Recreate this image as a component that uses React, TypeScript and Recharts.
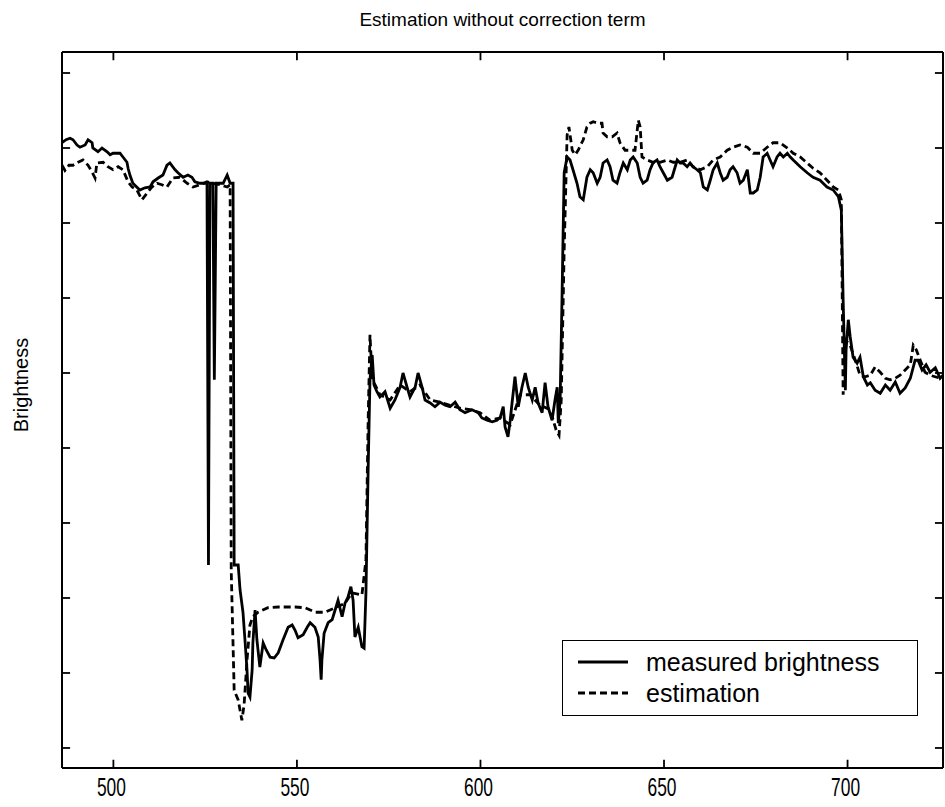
import React from 'react';
import { LineChart, Line, XAxis, YAxis, Legend, ReferenceLine } from 'recharts';

// x positions (sample index) and brightness of the measured signal
const measuredX = [
  486.0, 487.1, 488.2, 489.0, 490.1, 490.9, 492.3, 493.1, 494.2, 494.4, 495.8, 496.9, 498.3, 499.1, 499.9,
  501.8, 502.6, 503.7, 504.0, 504.5, 505.3, 507.2, 508.6, 510.0, 510.8, 512.2, 513.5, 514.6, 515.4, 516.8,
  517.6, 519.0, 520.3, 521.4, 522.2, 523.6, 525.0, 525.5, 525.9, 526.3, 527.1, 527.5, 528.0, 529.9, 531.0,
  531.8, 532.6, 532.9, 534.0, 534.5, 535.3, 535.9, 536.4, 536.7, 537.2, 537.8, 538.0, 538.6, 539.1, 539.9,
  540.8, 541.6, 542.7, 543.8, 544.9, 546.2, 547.6, 548.7, 549.5, 550.3, 551.7, 552.8, 553.6, 554.9, 555.8,
  556.3, 556.6, 556.8, 557.4, 558.5, 559.6, 560.4, 561.2, 562.3, 563.1, 563.9, 564.7, 565.3, 565.8, 566.7,
  567.7, 568.3, 568.8, 569.4, 569.9, 570.5, 571.0, 571.8, 572.6, 574.0, 575.4, 576.7, 578.1, 578.9, 580.0,
  580.8, 582.2, 583.0, 584.1, 584.9, 586.3, 587.6, 589.0, 590.4, 591.7, 593.1, 594.4, 595.8, 597.7, 599.4,
  600.4, 601.8, 603.2, 604.5, 605.4, 606.2, 606.7, 607.5, 608.1, 608.6, 609.4, 610.3, 611.3, 612.2, 613.0,
  614.1, 614.9, 615.7, 616.8, 617.6, 618.4, 619.5, 620.3, 620.9, 621.2, 621.7, 622.2, 622.8, 623.6, 624.4,
  625.2, 626.3, 627.1, 628.0, 629.0, 629.9, 630.7, 631.8, 632.6, 633.4, 634.5, 635.3, 636.1, 637.2, 638.0,
  638.9, 640.0, 640.8, 641.6, 642.7, 643.5, 644.3, 645.4, 646.2, 647.0, 648.1, 648.9, 649.8, 650.9, 652.2,
  653.6, 654.4, 655.2, 656.3, 657.1, 657.9, 659.0, 659.9, 660.7, 661.8, 662.6, 663.4, 664.5, 665.3, 666.1,
  667.2, 668.0, 668.8, 669.9, 670.7, 671.6, 672.7, 673.5, 674.3, 675.4, 676.2, 677.0, 678.1, 678.9, 679.7,
  680.8, 681.6, 682.5, 683.6, 684.4, 685.2, 687.1, 689.0, 690.6, 692.5, 694.4, 696.1, 697.5, 698.3, 698.8,
  699.4, 699.6, 700.2, 700.7, 701.5, 702.6, 703.4, 704.3, 705.4, 706.2, 707.5, 708.9, 710.3, 711.6, 713.0,
  714.3, 715.7, 717.1, 718.4, 719.2, 720.3, 721.4, 722.5, 723.9, 725.2, 726.0,
];
const measuredY = [
  90.7, 91.1, 91.3, 91.1, 90.4, 90.1, 90.4, 91.1, 90.7, 90.0, 89.5, 90.0, 89.5, 89.1, 89.3,
  89.3, 88.8, 88.1, 87.3, 86.4, 85.3, 84.4, 84.7, 84.8, 85.5, 86.0, 86.4, 87.7, 88.0, 87.1,
  86.7, 86.1, 86.4, 86.1, 85.5, 85.3, 85.3, 85.3, 34.4, 85.3, 85.3, 59.1, 85.3, 85.3, 86.4,
  85.3, 85.3, 34.4, 34.4, 31.1, 28.1, 24.0, 20.4, 17.3, 16.8, 20.4, 24.0, 28.4, 24.4, 20.8,
  24.0, 23.1, 22.1, 22.0, 22.7, 24.4, 26.1, 26.4, 25.7, 24.7, 25.1, 26.1, 26.7, 26.1, 24.8,
  21.7, 19.1, 21.7, 25.3, 26.7, 27.1, 28.4, 29.7, 27.5, 29.3, 30.1, 31.5, 29.7, 24.8, 26.1,
  23.5, 23.3, 30.7, 47.1, 59.1, 62.4, 58.4, 57.5, 56.8, 57.5, 55.3, 56.4, 58.1, 60.0, 58.1,
  56.8, 58.1, 60.0, 58.1, 56.4, 56.0, 55.5, 56.1, 55.7, 55.5, 56.1, 55.1, 54.7, 55.1, 54.7,
  54.0, 53.7, 53.5, 53.7, 54.1, 55.5, 52.8, 51.5, 53.7, 56.0, 59.5, 55.5, 58.1, 60.0, 58.1,
  56.4, 58.1, 56.0, 54.7, 58.7, 55.5, 53.7, 56.4, 58.1, 53.3, 56.4, 69.7, 86.7, 88.8, 88.4,
  87.1, 85.3, 83.5, 83.1, 86.1, 87.1, 86.7, 85.3, 86.1, 88.0, 88.4, 87.5, 85.7, 85.3, 86.7,
  88.0, 87.1, 88.4, 88.8, 88.0, 86.1, 85.3, 85.7, 87.1, 88.0, 88.4, 87.5, 86.7, 85.7, 86.1,
  88.4, 88.0, 88.0, 87.5, 88.0, 87.5, 87.1, 86.7, 84.8, 84.4, 85.7, 87.1, 88.0, 86.7, 85.7,
  86.1, 87.1, 87.5, 86.7, 85.3, 85.7, 87.1, 84.0, 84.0, 84.4, 86.1, 88.8, 89.3, 88.4, 87.5,
  88.8, 89.3, 88.8, 89.3, 88.8, 88.4, 87.5, 86.7, 86.1, 85.7, 84.8, 84.4, 83.5, 81.7, 69.7,
  57.7, 63.1, 67.1, 64.9, 62.1, 61.3, 62.1, 59.5, 58.4, 58.7, 57.7, 57.3, 58.4, 57.7, 58.8,
  57.3, 58.0, 59.3, 61.7, 61.7, 60.4, 61.1, 60.1, 60.7, 59.3, 59.7,
];

// estimation (no correction term)
const estimateX = [
  486.0, 486.8, 487.9, 489.0, 490.4, 491.7, 493.1, 494.2, 495.0, 495.5, 497.2, 498.5, 499.9, 501.3, 502.6,
  504.0, 505.1, 506.4, 507.8, 509.2, 510.5, 511.9, 513.2, 514.6, 516.2, 518.1, 520.1, 521.7, 523.6, 525.5,
  527.1, 529.0, 531.0, 531.8, 532.1, 532.9, 534.0, 535.0, 535.6, 536.4, 537.2, 538.0, 539.4, 542.1, 544.9,
  549.5, 552.2, 555.0, 557.7, 560.4, 563.1, 565.0, 567.7, 568.8, 569.4, 569.9, 570.5, 571.3, 572.6, 575.4,
  578.1, 580.8, 583.5, 586.3, 589.0, 591.7, 594.4, 597.2, 599.9, 602.6, 605.4, 608.1, 610.8, 613.5, 616.2,
  619.0, 620.6, 621.4, 622.0, 622.8, 623.6, 624.1, 625.0, 625.8, 626.6, 628.0, 629.0, 629.9, 630.7, 632.1,
  633.1, 633.4, 634.5, 635.9, 637.2, 638.0, 639.4, 640.8, 642.1, 643.0, 643.5, 644.0, 645.4, 647.0, 648.9,
  650.9, 652.5, 654.4, 656.3, 657.9, 659.9, 661.8, 663.4, 665.3, 667.2, 668.8, 670.7, 672.7, 674.3, 676.2,
  678.1, 679.7, 681.6, 683.6, 685.2, 687.1, 689.0, 690.6, 692.5, 694.4, 696.1, 697.5, 698.3, 698.8, 699.4,
  700.7, 702.1, 703.4, 704.8, 706.2, 707.5, 708.9, 710.3, 711.6, 713.0, 714.3, 715.7, 717.1, 717.9, 718.7,
  719.8, 721.1, 722.5, 725.2, 726.0,
];
const estimateY = [
  87.7, 87.0, 87.7, 87.7, 88.1, 88.4, 87.7, 86.8, 86.0, 88.0, 88.1, 87.5, 87.1, 87.5, 87.1,
  85.5, 84.8, 84.4, 83.1, 84.0, 84.8, 85.3, 85.1, 84.8, 86.0, 86.1, 85.3, 84.8, 85.1, 85.5,
  85.3, 85.1, 84.8, 85.1, 33.7, 17.7, 16.4, 13.7, 15.7, 21.7, 26.4, 27.5, 28.1, 28.7, 28.8,
  28.8, 28.7, 28.1, 28.1, 28.7, 29.3, 30.7, 30.4, 35.1, 53.7, 65.1, 59.1, 58.4, 57.1, 56.4,
  58.4, 57.5, 58.4, 56.4, 56.1, 55.7, 55.3, 55.1, 54.7, 53.7, 54.0, 53.1, 57.1, 57.1, 55.7,
  55.1, 52.4, 51.7, 56.4, 76.4, 91.7, 92.8, 89.7, 89.1, 89.7, 91.1, 92.8, 93.3, 93.5, 93.3,
  93.3, 92.0, 91.5, 91.5, 92.0, 90.7, 89.7, 89.7, 89.7, 93.7, 92.8, 88.8, 88.4, 88.1, 88.1,
  88.4, 88.1, 88.1, 88.4, 87.5, 87.1, 87.5, 88.4, 88.8, 89.7, 90.1, 90.4, 90.1, 89.3, 89.3,
  90.1, 90.7, 90.7, 90.0, 89.3, 88.8, 88.0, 87.3, 86.7, 85.7, 84.8, 84.4, 83.1, 57.1, 64.4,
  63.7, 61.7, 59.7, 59.5, 59.7, 60.8, 60.1, 59.3, 59.1, 59.3, 59.7, 60.4, 61.1, 63.7, 63.1,
  61.7, 60.1, 59.7, 59.3, 59.5,
];

const xTicks = [500, 550, 600, 650, 700];
const yTicks = [10, 20, 30, 40, 50, 60, 70, 80, 90, 100];

const X_DOMAIN: [number, number] = [486, 726];
const Y_DOMAIN: [number, number] = [7.33, 102.8];
// inward tick length expressed in axis units (about 8px)
const TICK_DX = 2.2;
const TICK_DY = 1.1;

const measured = measuredX.map((x, i) => ({ x, y: measuredY[i] }));
const estimate = estimateX.map((x, i) => ({ x, y: estimateY[i] }));

const FONT = '"Liberation Sans", Arial, sans-serif';

const BottomTick = (props: any) => {
  const { x, y, payload } = props;
  return (
    <text
      x={x - 2}
      y={y + 20}
      textAnchor="middle"
      fontSize={26}
      fontFamily={FONT}
      fill="#000"
      textLength={29}
      lengthAdjust="spacingAndGlyphs"
    >
      {payload.value}
    </text>
  );
};

const LegendBox = () => (
  <div
    style={{
      width: 354,
      height: 74,
      border: '1.5px solid #000',
      background: '#fff',
      fontFamily: FONT,
      fontSize: 25,
      color: '#000',
      position: 'relative',
    }}
  >
    {[
      { name: 'measured brightness', dash: undefined, top: 6 },
      { name: 'estimation', dash: '7 4', top: 37 },
    ].map((r) => (
      <div key={r.name} style={{ position: 'absolute', left: 15, top: r.top, display: 'flex', alignItems: 'center', height: 30 }}>
        <svg width={52} height={10}>
          <line x1={0} y1={5} x2={50} y2={5} stroke="#000" strokeWidth={3} strokeDasharray={r.dash} />
        </svg>
        <span style={{ marginLeft: 16, lineHeight: '30px' }}>{r.name}</span>
      </div>
    ))}
  </div>
);

export default function App() {
  const tickSegs: { x1: number; y1: number; x2: number; y2: number }[] = [];
  xTicks.forEach((t) => {
    tickSegs.push({ x1: t, y1: Y_DOMAIN[0], x2: t, y2: Y_DOMAIN[0] + TICK_DY });
    tickSegs.push({ x1: t, y1: Y_DOMAIN[1], x2: t, y2: Y_DOMAIN[1] - TICK_DY });
  });
  yTicks.forEach((t) => {
    tickSegs.push({ x1: X_DOMAIN[0], y1: t, x2: X_DOMAIN[0] + TICK_DX, y2: t });
    tickSegs.push({ x1: X_DOMAIN[1], y1: t, x2: X_DOMAIN[1] - TICK_DX, y2: t });
  });

  return (
    <div style={{ position: 'absolute', left: 0, top: 0, width: 945, height: 807, background: '#fff' }}>
      <div
        style={{
          position: 'absolute',
          top: 9,
          left: 0,
          width: 1005,
          textAlign: 'center',
          fontFamily: FONT,
          fontSize: 19,
        }}
      >
        Estimation without correction term
      </div>
      <div
        style={{
          position: 'absolute',
          left: 21,
          top: 385,
          transform: 'translate(-50%, -50%) rotate(-90deg)',
          fontFamily: FONT,
          fontSize: 20,
          whiteSpace: 'nowrap',
        }}
      >
        Brightness
      </div>
      <LineChart width={945} height={807} margin={{ top: 51, right: 1, bottom: 38, left: 61 }}>
        <XAxis
          xAxisId="b"
          type="number"
          dataKey="x"
          domain={X_DOMAIN}
          ticks={xTicks}
          allowDataOverflow
          height={1}
          tickSize={0}
          tickMargin={8}
          tickLine={false}
          stroke="#000"
          strokeWidth={2}
          tick={<BottomTick />}
        />
        <XAxis
          xAxisId="t"
          orientation="top"
          type="number"
          domain={X_DOMAIN}
          ticks={xTicks}
          allowDataOverflow
          height={1}
          tick={false}
          tickLine={false}
          stroke="#000"
          strokeWidth={2}
        />
        <YAxis
          yAxisId="l"
          type="number"
          domain={Y_DOMAIN}
          ticks={yTicks}
          allowDataOverflow
          width={1}
          tick={false}
          tickLine={false}
          stroke="#000"
          strokeWidth={2}
        />
        <YAxis
          yAxisId="r"
          orientation="right"
          type="number"
          domain={Y_DOMAIN}
          ticks={yTicks}
          allowDataOverflow
          width={1}
          tick={false}
          tickLine={false}
          stroke="#000"
          strokeWidth={2}
        />
        {tickSegs.map((s, i) => (
          <ReferenceLine
            key={i}
            xAxisId="b"
            yAxisId="l"
            segment={[
              { x: s.x1, y: s.y1 },
              { x: s.x2, y: s.y2 },
            ]}
            stroke="#000"
            strokeWidth={1.8}
            ifOverflow="visible"
          />
        ))}
        <Line
          xAxisId="b"
          yAxisId="l"
          data={measured}
          dataKey="y"
          type="linear"
          stroke="#000"
          strokeWidth={2.8}
          dot={false}
          isAnimationActive={false}
          name="measured brightness"
        />
        <Line
          xAxisId="b"
          yAxisId="l"
          data={estimate}
          dataKey="y"
          type="linear"
          stroke="#000"
          strokeWidth={2.8}
          strokeDasharray="7 4"
          dot={false}
          isAnimationActive={false}
          name="estimation"
        />
        <Legend
          layout="vertical"
          align="center"
          verticalAlign="middle"
          content={<LegendBox />}
          wrapperStyle={{ left: 562, top: 640, width: 'auto' }}
        />
      </LineChart>
    </div>
  );
}
